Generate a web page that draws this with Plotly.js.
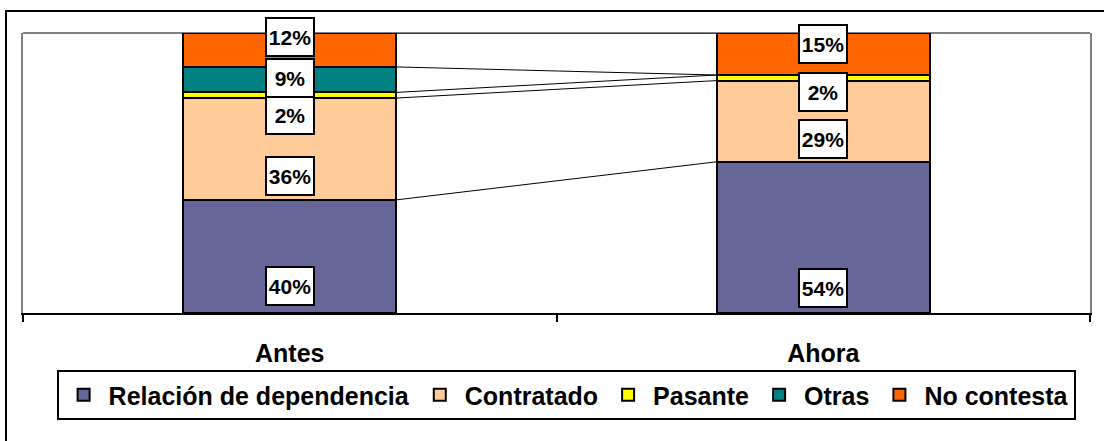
<!DOCTYPE html>
<html><head><meta charset="utf-8">
<script src="https://cdn.plot.ly/plotly-3.0.1.min.js"></script>
<style>
html,body{margin:0;padding:0;overflow:hidden;background:#fff}
#chart{width:1104px;height:441px;position:relative}
#frame{position:absolute;left:5px;top:10px;width:1200px;height:600px;border:2px solid #000;pointer-events:none}
</style></head><body>
<div id="chart"></div><div id="frame"></div>
<script>
const categories = ['Antes', 'Ahora'];
const seriesNames = ['Relación de dependencia', 'Contratado', 'Pasante', 'Otras', 'No contesta'];
const relacion = [40, 54];
const contratado = [36, 29];
const pasante = [2, 2];
const otras = [9, 0];
const noContesta = [12, 15];

const seriesValues = [relacion, contratado, pasante, otras, noContesta];
const colors = ['#666699', '#FFCC99', '#FFFF00', '#008080', '#FF6600'];
// label vertical offsets (px, + = up), per series, per category
const labelShift = [[-30, -51], [-27, -18], [-20, -14], [2, 0], [13, 10]];
const barWidth = 0.4;
const FONT = 'Arial, "Liberation Sans", sans-serif';

const traces = seriesNames.map((name, s) => ({
  type: 'bar', name: name, x: categories, y: seriesValues[s],
  width: barWidth,
  marker: {color: colors[s], line: {color: '#000', width: 2}},
  hoverinfo: 'none'
}));

const totals = categories.map((c, i) => seriesValues.reduce((a, v) => a + v[i], 0));
const annotations = [];
const shapes = [];
shapes.push({type: 'line', xref: 'paper', yref: 'paper', x0: 0, x1: 1, y0: 1, y1: 1, line: {color: '#808080', width: 2}, layer: 'below'});

const cum = categories.map(() => 0);
seriesValues.forEach((vals, s) => {
  const tops = [];
  vals.forEach((v, i) => {
    const mid = (cum[i] + v / 2) / totals[i] * 100;
    if (v > 0) {
      annotations.push({
        x: i, y: mid, xref: 'x', yref: 'y', text: v + '%', showarrow: false,
        yshift: labelShift[s][i],
        bgcolor: '#fff', bordercolor: '#000', borderwidth: 2, borderpad: 1,
        width: 44, height: 34,
        font: {family: FONT, size: 21, weight: 'bold', color: '#000'}
      });
    }
    cum[i] += v;
    tops.push(cum[i] / totals[i] * 100);
  });
  shapes.push({type: 'line', xref: 'x', yref: 'y',
    x0: 0 + barWidth / 2, x1: 1 - barWidth / 2, y0: tops[0], y1: tops[1],
    line: {color: '#000', width: 1}});
});

const layout = {
  width: 1104, height: 441,
  margin: {l: 23, r: 14, t: 33, b: 128},
  barmode: 'stack', barnorm: 'percent',
  paper_bgcolor: '#fff', plot_bgcolor: '#fff',
  font: {family: FONT, color: '#000'},
  showlegend: true,
  xaxis: {
    type: 'category', range: [-0.5, 1.5], tickson: 'boundaries',
    ticks: 'outside', ticklen: 7, tickwidth: 2, tickcolor: '#000',
    showline: true, linecolor: '#000', linewidth: 2,
    showgrid: false, zeroline: false,
    tickfont: {family: FONT, size: 25, weight: 'bold', color: '#000'},
    ticklabelstandoff: 17, fixedrange: true
  },
  yaxis: {
    range: [0, 100], showticklabels: false, showgrid: false, zeroline: false,
    showline: true, linecolor: '#808080', linewidth: 2, mirror: true, ticks: '', fixedrange: true
  },
  legend: {
    orientation: 'h', x: 0.509, xanchor: 'center', y: -0.2036, yanchor: 'top',
    bordercolor: '#000', borderwidth: 2, bgcolor: '#fff', traceorder: 'normal',
    itemwidth: 40,
    font: {family: FONT, size: 25, weight: 'bold', color: '#000'}
  },
  shapes: shapes,
  annotations: annotations
};

Plotly.newPlot('chart', traces, layout, {displayModeBar: false, staticPlot: true});
</script>
</body></html>
